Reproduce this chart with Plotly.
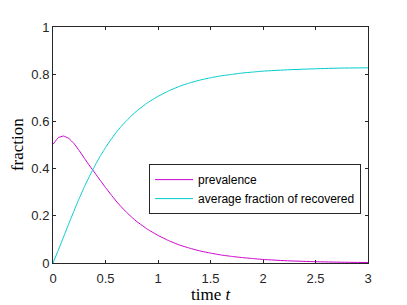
import plotly.graph_objects as go

# time points
t = [0, 0.05, 0.1, 0.15, 0.2, 0.25, 0.3, 0.35, 0.4, 0.45, 0.5, 0.55, 0.6, 0.65,
     0.7, 0.75, 0.8, 0.9, 1.0, 1.1, 1.2, 1.3, 1.4, 1.5, 1.6, 1.7, 1.8, 1.9,
     2.0, 2.25, 2.5, 2.75, 3.0]
prevalence = [0.503, 0.531, 0.538, 0.528, 0.506, 0.476, 0.443, 0.411, 0.381,
              0.350, 0.320, 0.291, 0.263, 0.238, 0.215, 0.194, 0.175, 0.143,
              0.117, 0.095, 0.077, 0.063, 0.051, 0.042, 0.034, 0.028, 0.023,
              0.019, 0.015, 0.009, 0.0055, 0.0033, 0.002]
recovered = [0.0, 0.054, 0.110, 0.166, 0.221, 0.274, 0.324, 0.370, 0.413,
             0.453, 0.489, 0.522, 0.552, 0.579, 0.603, 0.625, 0.645, 0.679,
             0.706, 0.729, 0.748, 0.763, 0.775, 0.785, 0.793, 0.799, 0.805,
             0.809, 0.813, 0.819, 0.823, 0.826, 0.827]

x_ticks = [0, 0.5, 1, 1.5, 2, 2.5, 3]
x_tick_text = ["0", "0.5", "1", "1.5", "2", "2.5", "3"]
y_ticks = [0, 0.2, 0.4, 0.6, 0.8, 1]
y_tick_text = ["0", "0.2", "0.4", "0.6", "0.8", "1"]

axis_color = "#262626"
tick_font = dict(family="Liberation Sans, Arial, sans-serif", size=13, color=axis_color)

fig = go.Figure()
fig.add_trace(go.Scatter(x=t, y=prevalence, mode="lines", name="prevalence",
                         line=dict(color="rgb(204,0,204)", width=1, shape="spline", smoothing=0.3)))
fig.add_trace(go.Scatter(x=t, y=recovered, mode="lines", name="average fraction of recovered",
                         line=dict(color="rgb(0,204,204)", width=1, shape="spline", smoothing=0.3)))

common = dict(showgrid=False, zeroline=False, showline=True, linecolor=axis_color,
              linewidth=1, mirror="ticks", ticks="inside", ticklen=3, tickcolor=axis_color,
              tickfont=tick_font)

fig.update_xaxes(range=[0, 3], tickvals=x_ticks, ticktext=x_tick_text,
                 ticklabelstandoff=3, **common)
fig.update_yaxes(range=[0, 1], tickvals=y_ticks, ticktext=y_tick_text, **common)

# the page body has an 8px margin, so the figure is 8px smaller and margins shifted
fig.update_layout(
    width=399, height=297,
    margin=dict(l=45, r=39, t=14, b=42),
    paper_bgcolor="white", plot_bgcolor="white",
    showlegend=True,
    legend=dict(x=0.305, y=0.419, xanchor="left", yanchor="top",
                bgcolor="white", bordercolor=axis_color, borderwidth=1,
                font=dict(family="Liberation Sans, Arial, sans-serif", size=12, color="#000000"),
                tracegroupgap=0, itemwidth=38),
    annotations=[
        dict(text="time <i>t</i>", x=0.5, y=-0.083, xref="paper", yref="paper",
             xanchor="center", yanchor="top", showarrow=False,
             font=dict(family="Liberation Serif, Times New Roman, serif", size=17, color="#000000")),
        dict(text="fraction", x=-0.114, y=0.5, xref="paper", yref="paper",
             xanchor="center", yanchor="middle", showarrow=False, textangle=-90,
             font=dict(family="Liberation Serif, Times New Roman, serif", size=17, color="#000000")),
    ],
)

fig.write_html("out.html")
